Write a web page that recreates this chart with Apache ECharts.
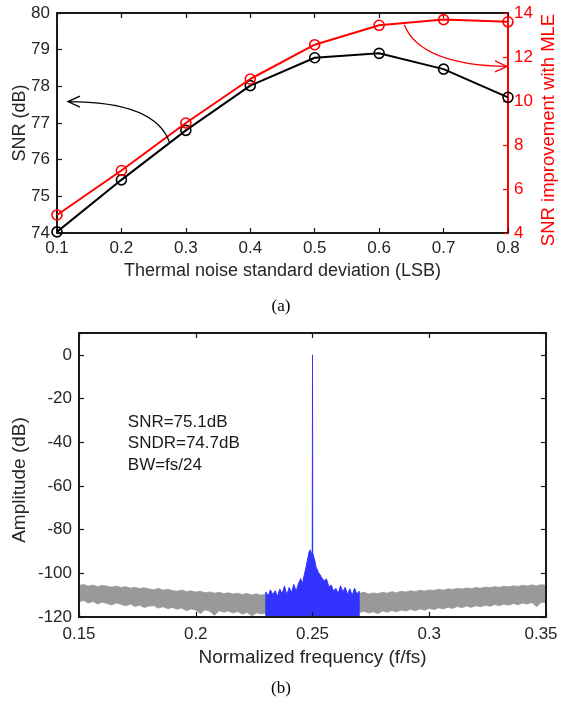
<!DOCTYPE html>
<html>
<head>
<meta charset="utf-8">
<script src="https://cdn.jsdelivr.net/npm/echarts@6/dist/echarts.min.js"></script>
<style>
html,body{margin:0;padding:0;background:#fff;}
#chart{width:561px;height:705px;}
</style>
</head>
<body>
<div id="chart"></div>
<script>
// ---- Panel (a) data ----
const noiseStd = [0.1, 0.2, 0.3, 0.4, 0.5, 0.6, 0.7, 0.8];
const snrBase = [74.03, 75.45, 76.80, 78.02, 78.78, 78.90, 78.47, 77.70];
const snrImprovement = [4.82, 6.84, 9.00, 11.00, 12.56, 13.44, 13.70, 13.60];

// ---- Panel (b) data ----
// [frequency, upper envelope, lower envelope] read from the out-of-band noise (grey)
const greyLeft = [
[0.150,-105.6,-113.0],[0.152,-105.1,-112.4],[0.154,-105.9,-113.6],[0.156,-105.4,-112.9],
[0.158,-106.1,-114.1],[0.160,-105.5,-113.2],[0.162,-105.9,-113.8],[0.164,-106.3,-114.5],
[0.166,-105.8,-113.6],[0.168,-106.5,-114.2],[0.170,-106.1,-114.9],[0.172,-106.8,-114.1],
[0.174,-106.4,-115.2],[0.176,-107.0,-114.6],[0.178,-106.6,-115.7],[0.180,-107.2,-115.0],
[0.182,-107.5,-114.8],[0.184,-106.9,-115.9],[0.186,-107.7,-115.3],[0.188,-107.3,-116.2],
[0.190,-107.9,-115.6],[0.192,-108.2,-116.4],[0.194,-107.6,-115.9],[0.196,-108.4,-117.1],
[0.198,-108.0,-116.3],[0.200,-108.6,-116.8],[0.202,-108.2,-118.4],[0.204,-108.9,-116.7],
[0.206,-108.5,-117.4],[0.208,-109.1,-119.2],[0.210,-108.7,-117.1],[0.212,-109.3,-117.8],
[0.214,-108.9,-117.3],[0.216,-109.5,-118.2],[0.218,-109.1,-117.5],[0.220,-109.7,-118.7],
[0.222,-109.2,-117.8],[0.224,-109.9,-119.5],[0.226,-109.4,-118.1],[0.228,-110.0,-118.6],
[0.230,-109.6,-118.3]
];
const greyRight = [
[0.270,-109.2,-118.0],[0.272,-108.6,-117.4],[0.274,-109.5,-118.2],[0.276,-109.0,-117.6],
[0.278,-109.3,-118.5],[0.280,-108.7,-117.2],[0.282,-109.1,-117.8],[0.284,-108.4,-117.0],
[0.286,-108.9,-117.6],[0.288,-108.2,-116.8],[0.290,-108.6,-117.3],[0.292,-108.0,-116.5],
[0.294,-108.4,-117.1],[0.296,-107.8,-116.3],[0.298,-108.1,-116.9],[0.300,-107.6,-116.0],
[0.302,-107.9,-116.6],[0.304,-107.3,-115.8],[0.306,-107.7,-116.3],[0.308,-107.1,-115.5],
[0.310,-107.4,-116.1],[0.312,-106.9,-115.2],[0.314,-107.2,-115.8],[0.316,-106.7,-115.0],
[0.318,-107.0,-115.6],[0.320,-106.5,-114.8],[0.322,-106.8,-115.3],[0.324,-106.3,-114.6],
[0.326,-106.6,-115.1],[0.328,-106.1,-114.3],[0.330,-106.4,-114.9],[0.332,-105.9,-114.1],
[0.334,-106.2,-114.6],[0.336,-105.7,-113.8],[0.338,-106.0,-114.4],[0.340,-105.5,-113.6],
[0.342,-105.8,-114.1],[0.344,-105.3,-113.4],[0.346,-105.7,-115.3],[0.348,-105.2,-113.2],
[0.350,-105.5,-113.5]
];
// [frequency, amplitude] in-band spectrum (blue), includes the signal tone at 0.25
const inBand = [
[0.2300,-108.5],[0.2310,-110.4],[0.2320,-107.6],[0.2330,-109.8],[0.2340,-108.0],
[0.2350,-110.6],[0.2360,-107.2],[0.2370,-109.4],[0.2380,-105.8],[0.2390,-109.9],
[0.2400,-106.5],[0.2410,-108.8],[0.2420,-105.1],[0.2430,-108.2],[0.2440,-104.6],
[0.2450,-102.4],[0.2455,-105.2],[0.2460,-103.2],[0.2465,-100.6],[0.2470,-98.4],
[0.2475,-95.6],[0.2480,-93.1],[0.2485,-90.4],[0.2490,-89.3],[0.2495,-91.2],
[0.2499,-89.8],[0.2500,0],[0.2501,-90.6],[0.2505,-92.4],[0.2510,-94.3],
[0.2515,-97.2],[0.2520,-98.1],[0.2525,-99.6],[0.2530,-100.3],[0.2540,-102.1],
[0.2550,-103.4],[0.2560,-102.6],[0.2570,-106.3],[0.2580,-105.4],[0.2590,-108.1],
[0.2600,-106.9],[0.2610,-109.3],[0.2620,-105.7],[0.2630,-108.6],[0.2640,-106.4],
[0.2650,-109.7],[0.2660,-107.1],[0.2670,-110.2],[0.2680,-106.8],[0.2690,-109.5],
[0.2700,-108.2]
];
const metricLines = ['SNR=75.1dB', 'SNDR=74.7dB', 'BW=fs/24'];

const FONT = '"Liberation Sans", Arial, sans-serif';
const AX = '#1a1a1a';
const TXT = '#262626';
const RED = '#ff0000';
const BLUE = '#3333ff';
const GREY = '#999999';

function axisBase(color, fontSize, showLabel, margin) {
  return {
    axisLine: {show: true, onZero: false, lineStyle: {color: color, width: 2}},
    axisTick: {show: true, inside: true, length: 5, lineStyle: {color: color, width: 1.2}},
    axisLabel: {show: showLabel, color: color === AX ? TXT : color, fontSize: fontSize, fontFamily: FONT, margin: margin},
    splitLine: {show: false},
    nameMoveOverlap: false,
    nameTextStyle: {color: color === AX ? TXT : color, fontFamily: FONT}
  };
}

const chart = echarts.init(document.getElementById('chart'), null, {renderer: 'canvas'});

function bandRender(rows) {
  return function (params, api) {
    const pts = [];
    for (let i = 0; i < rows.length; i++) pts.push(api.coord([rows[i][0], rows[i][1]]));
    for (let i = rows.length - 1; i >= 0; i--) pts.push(api.coord([rows[i][0], rows[i][2]]));
    return {type: 'polygon', shape: {points: pts}, style: {fill: GREY, stroke: GREY, lineWidth: 0.8}};
  };
}
function inBandRender(params, api) {
  const pts = [];
  for (let i = 0; i < inBand.length; i++) pts.push(api.coord([inBand[i][0], inBand[i][1]]));
  pts.push(api.coord([inBand[inBand.length - 1][0], -120]));
  pts.push(api.coord([inBand[0][0], -120]));
  return {type: 'polygon', shape: {points: pts}, style: {fill: BLUE, stroke: BLUE, lineWidth: 1}};
}

const option = {
  animation: false,
  backgroundColor: '#ffffff',
  grid: [
    {left: 57, top: 13, width: 451, height: 220, containLabel: false, outerBoundsMode: 'none'},
    {left: 79, top: 333, width: 467, height: 284, containLabel: false, outerBoundsMode: 'none'}
  ],
  xAxis: [
    Object.assign(axisBase(AX, 17, true, 7), {
      type: 'value', gridIndex: 0, min: 0.1, max: 0.8, interval: 0.1, position: 'bottom',
      name: 'Thermal noise standard deviation (LSB)', nameLocation: 'middle', nameGap: 29,
      nameTextStyle: {color: TXT, fontFamily: FONT, fontSize: 18},
      axisLabel: {color: TXT, fontSize: 17, fontFamily: FONT, margin: 7, formatter: v => v.toFixed(1)}
    }),
    Object.assign(axisBase(AX, 17, false, 7), {
      type: 'value', gridIndex: 0, min: 0.1, max: 0.8, interval: 0.1, position: 'top'
    }),
    Object.assign(axisBase(AX, 17, true, 9), {
      type: 'value', gridIndex: 1, min: 0.15, max: 0.35, interval: 0.05, position: 'bottom', z: 10,
      name: 'Normalized frequency (f/fs)', nameLocation: 'middle', nameGap: 31,
      nameTextStyle: {color: TXT, fontFamily: FONT, fontSize: 19},
      axisLabel: {color: TXT, fontSize: 17, fontFamily: FONT, margin: 9,
        formatter: v => (v > 0.349 ? '' : String(parseFloat(v.toFixed(2))))}
    }),
    Object.assign(axisBase(AX, 17, false, 9), {
      type: 'value', gridIndex: 1, min: 0.15, max: 0.35, interval: 0.05, position: 'top', z: 10
    })
  ],
  yAxis: [
    Object.assign(axisBase(AX, 17, true, 7), {
      type: 'value', gridIndex: 0, min: 74, max: 80, interval: 1, position: 'left',
      name: 'SNR (dB)', nameLocation: 'middle', nameGap: 28, nameRotate: 90,
      nameTextStyle: {color: TXT, fontFamily: FONT, fontSize: 18}
    }),
    Object.assign(axisBase(RED, 17, true, 6), {
      type: 'value', gridIndex: 0, min: 4, max: 14, interval: 2, position: 'right',
      name: 'SNR improvement with MLE', nameLocation: 'middle', nameGap: 31, nameRotate: 90,
      nameTextStyle: {color: RED, fontFamily: FONT, fontSize: 18.5, padding: [0, 14, 0, 0]}
    }),
    Object.assign(axisBase(AX, 17, true, 7), {
      type: 'value', gridIndex: 1, min: -120, max: 10, interval: 20, position: 'left', z: 10,
      name: 'Amplitude (dB)', nameLocation: 'middle', nameGap: 50, nameRotate: 90,
      nameTextStyle: {color: TXT, fontFamily: FONT, fontSize: 19, padding: [0, 10, 0, 0]},
      axisLabel: {color: TXT, fontSize: 17, fontFamily: FONT, margin: 7, formatter: v => (v > 0.5 ? '' : String(v))}
    }),
    Object.assign(axisBase(AX, 17, false, 7), {
      type: 'value', gridIndex: 1, min: -120, max: 10, interval: 20, position: 'right', z: 10
    })
  ],
  series: [
    {
      type: 'line', xAxisIndex: 0, yAxisIndex: 0,
      data: noiseStd.map((x, i) => [x, snrBase[i]]),
      lineStyle: {color: '#000000', width: 2},
      symbol: 'circle', symbolSize: 10,
      itemStyle: {color: 'rgba(0,0,0,0)', borderColor: '#000000', borderWidth: 1.6},
      z: 3
    },
    {
      type: 'line', xAxisIndex: 0, yAxisIndex: 1,
      data: noiseStd.map((x, i) => [x, snrImprovement[i]]),
      lineStyle: {color: RED, width: 2},
      symbol: 'circle', symbolSize: 10,
      itemStyle: {color: 'rgba(0,0,0,0)', borderColor: RED, borderWidth: 1.6},
      z: 4
    },
    {
      type: 'custom', xAxisIndex: 2, yAxisIndex: 2, data: [[0.19, -110]],
      renderItem: bandRender(greyLeft), silent: true, z: 2
    },
    {
      type: 'custom', xAxisIndex: 2, yAxisIndex: 2, data: [[0.31, -110]],
      renderItem: bandRender(greyRight), silent: true, z: 2
    },
    {
      type: 'custom', xAxisIndex: 2, yAxisIndex: 2, data: [[0.25, -110]],
      renderItem: inBandRender, silent: true, z: 3
    }
  ]
};
chart.setOption(option);

// ---- annotations (arrows in data coordinates) ----
const blackArrow = {from: [0.275, 76.45], ctrl: [0.2545, 77.585], to: [0.117, 77.585]};
const redArrow = {from: [0.639, 13.47], ctrl: [0.6637, 11.65], to: [0.7985, 11.57]};
const metricAnchor = [0.1709, [-31.1, -40.5, -50.6]];

const toA = p => chart.convertToPixel({xAxisIndex: 0, yAxisIndex: 0}, p);
const toAR = p => chart.convertToPixel({xAxisIndex: 0, yAxisIndex: 1}, p);
const toB = p => chart.convertToPixel({xAxisIndex: 2, yAxisIndex: 2}, p);

function arrowGraphics(a, conv, color, dir) {
  const p0 = conv(a.from), c = conv(a.ctrl), p1 = conv(a.to);
  const s = dir; // -1 points left, +1 points right
  return [
    {type: 'bezierCurve', z: 20, shape: {x1: p0[0], y1: p0[1], x2: p1[0], y2: p1[1], cpx1: c[0], cpy1: c[1]},
      style: {stroke: color, lineWidth: 1.3, fill: null}},
    {type: 'polyline', z: 20, shape: {points: [[p1[0] - s * 12, p1[1] - 5.5], [p1[0], p1[1]], [p1[0] - s * 12, p1[1] + 5.5]]},
      style: {stroke: color, lineWidth: 1.3, fill: null}}
  ];
}

const graphics = [];
graphics.push(...arrowGraphics(blackArrow, toA, '#000000', -1));
graphics.push(...arrowGraphics(redArrow, toAR, RED, 1));
metricLines.forEach((t, i) => {
  const p = toB([metricAnchor[0], metricAnchor[1][i]]);
  graphics.push({type: 'text', z: 20, x: p[0], y: p[1],
    style: {text: t, fill: '#1a1a1a', font: '17px ' + FONT, textAlign: 'left', textVerticalAlign: 'middle'}});
});
// last frequency tick label, nudged inward so it stays inside the figure as in the original
const lastTick = toB([0.35, -120]);
graphics.push({type: 'text', z: 20, x: lastTick[0] - 5, y: lastTick[1] + 9,
  style: {text: '0.35', fill: TXT, font: '17px ' + FONT, textAlign: 'center', textVerticalAlign: 'top'}});
graphics.push({type: 'text', z: 20, x: 281, y: 307,
  style: {text: '(a)', fill: '#000', font: '17px "Liberation Serif", "Times New Roman", serif', textAlign: 'center', textVerticalAlign: 'middle'}});
graphics.push({type: 'text', z: 20, x: 281, y: 689,
  style: {text: '(b)', fill: '#000', font: '17px "Liberation Serif", "Times New Roman", serif', textAlign: 'center', textVerticalAlign: 'middle'}});
chart.setOption({graphic: graphics});
</script>
</body>
</html>
